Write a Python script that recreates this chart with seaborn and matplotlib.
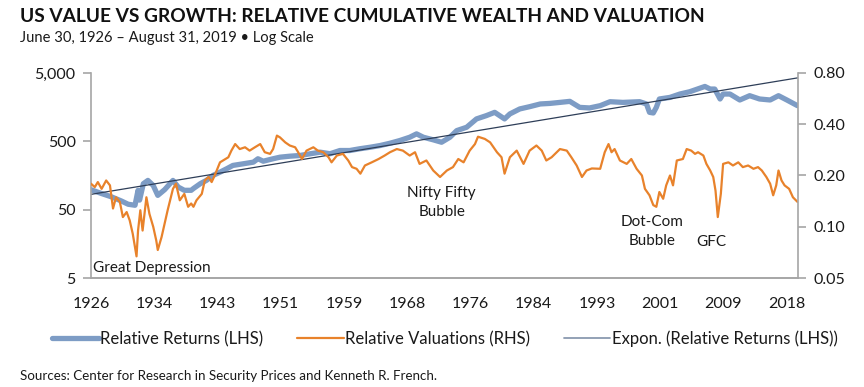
import numpy as np
import pandas as pd
import matplotlib
matplotlib.use('Agg')
import matplotlib.pyplot as plt
import matplotlib.ticker as mticker
from matplotlib.lines import Line2D
import seaborn as sns

# Relative cumulative wealth, value vs growth (LHS, log scale)
returns_year = [1926.5, 1927.9, 1929.2, 1930.5, 1931.4, 1932.3, 1932.7, 1932.9, 1933.4, 1934.0,
                1934.7, 1935.3, 1936.2, 1937.3, 1938.0, 1938.8, 1939.7, 1940.0, 1940.9, 1941.7,
                1942.6, 1943.5, 1944.4, 1945.2, 1946.6, 1947.9, 1948.5, 1949.2, 1950.5, 1951.4,
                1952.7, 1954.0, 1955.4, 1956.7, 1958.0, 1959.3, 1960.6, 1961.9, 1963.3, 1964.6,
                1965.9, 1967.2, 1968.5, 1969.4, 1970.3, 1971.6, 1972.7, 1973.8, 1974.7, 1976.0,
                1977.3, 1978.6, 1979.7, 1981.0, 1981.7, 1983.0, 1984.3, 1985.7, 1987.0, 1988.3,
                1989.6, 1990.9, 1992.2, 1993.6, 1994.9, 1996.6, 1998.8, 1999.7, 2000.1, 2000.6,
                2001.0, 2001.4, 2002.8, 2004.1, 2005.4, 2006.8, 2007.4, 2008.1, 2008.7, 2009.4,
                2009.8, 2010.7, 2012.0, 2013.3, 2014.6, 2016.0, 2017.1, 2018.2, 2019.6]
returns_val = [98, 86, 77, 67, 60, 58, 96, 69, 120, 134,
               113, 81, 98, 134, 107, 96, 96, 102, 120, 134,
               159, 177, 199, 222, 235, 248, 278, 256, 278, 293,
               303, 310, 329, 347, 329, 367, 367, 389, 410, 434,
               469, 514, 574, 643, 574, 526, 485, 574, 718, 803,
               1064, 1189, 1328, 1064, 1259, 1489, 1607, 1761, 1795, 1857,
               1923, 1570, 1540, 1663, 1901, 1857, 1901, 1761, 1328, 1300,
               1570, 2083, 2198, 2462, 2660, 3013, 3177, 2911, 2911, 2083,
               2462, 2462, 2014, 2328, 2083, 2014, 2328, 2014, 1663]

# Relative valuations (RHS, log scale)
val_year = [1926.5, 1927.0, 1927.4, 1927.9, 1928.5, 1929.0, 1929.4, 1929.8, 1930.3, 1930.7,
            1931.2, 1931.6, 1932.0, 1932.5, 1932.7, 1933.0, 1933.3, 1933.8, 1934.2, 1934.7,
            1935.1, 1935.3, 1935.8, 1936.2, 1936.6, 1937.3, 1937.7, 1938.2, 1938.8, 1939.3,
            1939.7, 1940.0, 1940.4, 1941.1, 1941.5, 1942.0, 1942.4, 1942.8, 1943.5, 1943.9,
            1944.6, 1945.0, 1945.5, 1946.1, 1946.8, 1947.4, 1948.1, 1948.8, 1949.4, 1950.1,
            1950.5, 1951.0, 1951.4, 1952.1, 1952.7, 1953.4, 1953.8, 1954.3, 1954.9, 1955.8,
            1956.4, 1957.1, 1957.8, 1958.2, 1958.9, 1959.7, 1960.4, 1960.9, 1961.5, 1962.0,
            1962.6, 1963.5, 1964.4, 1965.2, 1965.9, 1966.8, 1967.6, 1968.5, 1969.2, 1969.8,
            1970.7, 1971.6, 1972.5, 1973.4, 1974.2, 1974.9, 1975.6, 1976.4, 1977.1, 1977.5,
            1978.4, 1979.1, 1980.0, 1980.6, 1981.0, 1981.7, 1982.6, 1983.5, 1984.3, 1985.2,
            1985.9, 1986.5, 1987.2, 1988.3, 1989.2, 1989.8, 1990.5, 1991.2, 1991.8, 1992.5,
            1993.6, 1994.2, 1994.7, 1995.1, 1995.5, 1996.2, 1997.1, 1997.7, 1998.4, 1999.1,
            1999.5, 2000.1, 2000.6, 2001.0, 2001.4, 2001.9, 2002.3, 2002.8, 2003.2, 2003.7,
            2004.5, 2005.0, 2005.6, 2006.1, 2006.5, 2007.2, 2007.6, 2008.1, 2008.5, 2008.8,
            2009.1, 2009.5, 2009.8, 2010.5, 2011.1, 2011.8, 2012.4, 2013.1, 2013.8, 2014.4,
            2014.9, 2015.5, 2016.0, 2016.4, 2016.8, 2017.1, 2017.5, 2017.9, 2018.5, 2019.0,
            2019.6]
val_val = [0.179, 0.171, 0.183, 0.167, 0.187, 0.175, 0.128, 0.149, 0.140, 0.114,
           0.122, 0.109, 0.091, 0.067, 0.095, 0.125, 0.095, 0.149, 0.119, 0.100,
           0.083, 0.073, 0.087, 0.104, 0.125, 0.167, 0.179, 0.143, 0.156, 0.131,
           0.137, 0.131, 0.143, 0.156, 0.187, 0.196, 0.183, 0.200, 0.239, 0.245,
           0.256, 0.280, 0.306, 0.286, 0.293, 0.280, 0.293, 0.306, 0.274, 0.268,
           0.286, 0.343, 0.335, 0.313, 0.300, 0.293, 0.274, 0.250, 0.280, 0.293,
           0.280, 0.274, 0.256, 0.239, 0.262, 0.268, 0.245, 0.224, 0.219, 0.205,
           0.229, 0.239, 0.250, 0.262, 0.274, 0.286, 0.280, 0.262, 0.274, 0.234,
           0.245, 0.214, 0.196, 0.214, 0.224, 0.250, 0.239, 0.280, 0.306, 0.338,
           0.328, 0.313, 0.274, 0.256, 0.205, 0.256, 0.280, 0.234, 0.280, 0.300,
           0.280, 0.245, 0.256, 0.286, 0.280, 0.256, 0.229, 0.196, 0.214, 0.220,
           0.219, 0.274, 0.306, 0.274, 0.286, 0.245, 0.234, 0.250, 0.219, 0.200,
           0.167, 0.153, 0.134, 0.131, 0.160, 0.146, 0.175, 0.200, 0.175, 0.245,
           0.250, 0.286, 0.280, 0.268, 0.274, 0.262, 0.234, 0.214, 0.196, 0.163,
           0.114, 0.156, 0.234, 0.239, 0.229, 0.239, 0.224, 0.229, 0.219, 0.224,
           0.214, 0.196, 0.179, 0.153, 0.175, 0.214, 0.187, 0.175, 0.167, 0.149,
           0.140]

tick_labels = ['1926', '1934', '1943', '1951', '1959', '1968', '1976', '1984',
               '1993', '2001', '2009', '2018']
legend_labels = ['Relative Returns (LHS)', 'Relative Valuations (RHS)',
                 'Expon. (Relative Returns (LHS))']

blue = '#7d9cc5'
orange = '#e8822b'
navy = '#2e3e58'
grey = '#a6a6a6'
txt = '#1a1a1a'

sns.set_style('white')
plt.rcParams['font.family'] = ['Lato', 'DejaVu Sans']

ret = pd.DataFrame({'year': returns_year, 'value': returns_val})
val = pd.DataFrame({'year': val_year, 'value': val_val})

# exponential trend of relative returns
coef = np.polyfit(ret['year'], np.log(ret['value']), 1)
trend = pd.DataFrame({'year': [1926.5, 2019.67]})
trend['value'] = np.exp(np.polyval(coef, trend['year']))

fig = plt.figure(figsize=(8.64, 3.87), dpi=100)
ax = fig.add_axes([91 / 864, 1 - 278 / 387, 707 / 864, 205 / 387])
ax2 = ax.twinx()

sns.lineplot(data=ret, x='year', y='value', ax=ax, color=blue, linewidth=3.8,
             solid_capstyle='round', solid_joinstyle='round')
sns.lineplot(data=trend, x='year', y='value', ax=ax, color=navy, linewidth=0.9)
sns.lineplot(data=val, x='year', y='value', ax=ax2, color=orange, linewidth=1.6)

ax.set_yscale('log')
ax.set_ylim(5, 5000)
ax.set_yticks([5, 50, 500, 5000])
ax.yaxis.set_major_formatter(mticker.FuncFormatter(lambda v, p: f'{v:,.0f}'))
ax.yaxis.set_minor_locator(mticker.NullLocator())

ax2.set_yscale('log', base=2)
ax2.set_ylim(0.05, 0.8)
ax2.set_yticks([0.05, 0.1, 0.2, 0.4, 0.8])
ax2.yaxis.set_major_formatter(mticker.FuncFormatter(lambda v, p: f'{v:.2f}'))
ax2.yaxis.set_minor_locator(mticker.NullLocator())

start = 1926.5
ax.set_xlim(start, 2019.67)
ax.set_xticks([start + k * 100 / 12 for k in range(len(tick_labels))])
ax.set_xticklabels(tick_labels)

for a in (ax, ax2):
    a.set_xlabel('')
    a.set_ylabel('')
    for s in a.spines.values():
        s.set_color(grey)
        s.set_linewidth(1.2)
    a.spines['top'].set_visible(False)
    a.tick_params(colors=txt, labelsize=11.5, length=6, width=1.2, color=grey)
ax.spines['right'].set_visible(False)
ax2.spines['left'].set_visible(False)
ax.tick_params(axis='x', pad=8)
ax.tick_params(axis='y', pad=5)
ax2.tick_params(axis='y', pad=5)

# event labels
ax.text(1926.8, 7.0, 'Great Depression', fontsize=11, color=txt, va='center', ha='left')
ax.text(1972.7, 63, 'Nifty Fifty\nBubble', fontsize=11, color=txt, va='center', ha='center',
        linespacing=1.45)
ax.text(2000.5, 23.8, 'Dot-Com\nBubble', fontsize=11, color=txt, va='center', ha='center',
        linespacing=1.45)
ax.text(2008.2, 16.7, 'GFC', fontsize=11, color=txt, va='center', ha='center')

handles = [Line2D([], [], color=blue, linewidth=3.8),
           Line2D([], [], color=orange, linewidth=1.6),
           Line2D([], [], color='#8a9ab0', linewidth=1.3)]
fig.legend(handles, legend_labels, loc='center', bbox_to_anchor=(0.515, 1 - 339 / 387),
           ncol=3, frameon=False, fontsize=12, handlelength=2.8, handletextpad=0.1,
           columnspacing=2.0, labelcolor=txt)

fig.text(20 / 864, 1 - 17 / 387, 'US VALUE VS GROWTH: RELATIVE CUMULATIVE WEALTH AND VALUATION',
         fontsize=13.8, fontweight='bold', color='#111111', va='center', ha='left')
fig.text(20 / 864, 1 - 38 / 387, 'June 30, 1926 \u2013 August 31, 2019 \u2022 Log Scale',
         fontsize=10.6, color=txt, va='center', ha='left')
fig.text(20 / 864, 1 - 376 / 387, 'Sources: Center for Research in Security Prices and Kenneth R. French.',
         fontsize=9.6, color=txt, va='center', ha='left')

fig.savefig('out.png', dpi=100)
